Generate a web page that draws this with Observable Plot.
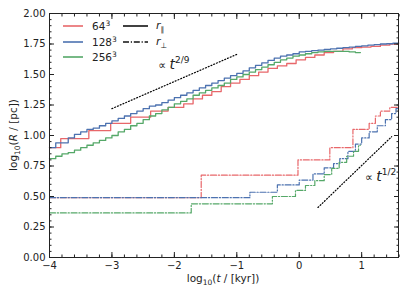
<!DOCTYPE html>
<html><head><meta charset="utf-8">
<script src="https://cdn.jsdelivr.net/npm/d3@7"></script>
<script src="https://cdn.jsdelivr.net/npm/@observablehq/plot@0.6"></script>
<style>body{margin:0;background:#fff} svg{font-family:"DejaVu Sans",sans-serif}</style>
</head><body><div id="chart"></div>
<script>
const resolutions = ["64³", "128³", "256³"];
const seriesColors = ["#e8676a", "#4c72b0", "#55a868"];

// r_parallel (solid)
const par64X = [-4.0, -3.82, -3.37, -3.02, -2.70, -2.38, -2.10, -1.85, -1.70, -1.55, -1.40, -1.25, -1.10, -0.95, -0.80, -0.65, -0.50, -0.35, -0.20, -0.05, 0.10, 0.25, 0.40, 0.55, 0.70, 0.85, 1.00, 1.15, 1.30, 1.45, 1.59];
const par64Y = [0.90, 0.975, 1.04, 1.10, 1.15, 1.20, 1.23, 1.26, 1.30, 1.33, 1.36, 1.40, 1.43, 1.46, 1.49, 1.52, 1.55, 1.57, 1.59, 1.62, 1.64, 1.66, 1.68, 1.69, 1.71, 1.72, 1.725, 1.73, 1.74, 1.75, 1.76];
const par128X = [-4.0, -3.9, -3.8, -3.7, -3.6, -3.5, -3.4, -3.3, -3.2, -3.1, -3.0, -2.9, -2.8, -2.7, -2.6, -2.5, -2.4, -2.3, -2.2, -2.1, -2.0, -1.9, -1.8, -1.7, -1.6, -1.5, -1.4, -1.3, -1.2, -1.1, -1.0, -0.9, -0.8, -0.7, -0.6, -0.5, -0.4, -0.3, -0.2, -0.1, 0.0, 0.1, 0.2, 0.3, 0.4, 0.5, 0.6, 0.7, 0.8, 0.9, 1.0, 1.1, 1.2, 1.3, 1.4, 1.5, 1.59];
const par128Y = [0.90, 0.94, 0.94, 0.98, 1.01, 1.03, 1.05, 1.06, 1.08, 1.10, 1.12, 1.14, 1.16, 1.18, 1.20, 1.22, 1.24, 1.25, 1.27, 1.29, 1.31, 1.33, 1.35, 1.37, 1.39, 1.41, 1.43, 1.45, 1.47, 1.49, 1.51, 1.53, 1.555, 1.575, 1.595, 1.615, 1.635, 1.65, 1.66, 1.67, 1.685, 1.69, 1.695, 1.70, 1.705, 1.71, 1.715, 1.72, 1.725, 1.73, 1.735, 1.74, 1.745, 1.75, 1.752, 1.756, 1.76];
const par256X = [-4.0, -3.9, -3.8, -3.7, -3.6, -3.5, -3.4, -3.3, -3.2, -3.1, -3.0, -2.9, -2.8, -2.7, -2.6, -2.5, -2.4, -2.3, -2.2, -2.1, -2.0, -1.9, -1.8, -1.7, -1.6, -1.5, -1.4, -1.3, -1.2, -1.1, -1.0, -0.9, -0.8, -0.7, -0.6, -0.5, -0.4, -0.3, -0.2, -0.1, 0.0, 0.1, 0.2, 0.3, 0.4, 0.5, 0.6, 0.7, 0.8, 0.9, 0.98];
const par256Y = [0.81, 0.83, 0.85, 0.86, 0.88, 0.90, 0.92, 0.94, 0.96, 0.98, 1.00, 1.03, 1.05, 1.08, 1.10, 1.13, 1.16, 1.18, 1.21, 1.23, 1.26, 1.28, 1.30, 1.33, 1.35, 1.37, 1.39, 1.41, 1.43, 1.46, 1.48, 1.50, 1.52, 1.54, 1.56, 1.58, 1.60, 1.62, 1.635, 1.65, 1.66, 1.67, 1.68, 1.685, 1.69, 1.69, 1.69, 1.69, 1.685, 1.68, 1.68];

// r_perp (dash-dot)
const perp64X = [-4.0, -1.57, -0.02, 0.49, 0.86, 1.12, 1.22, 1.30, 1.45, 1.59];
const perp64Y = [0.49, 0.675, 0.80, 0.90, 1.05, 1.10, 1.16, 1.20, 1.23, 1.25];
const perp128X = [-4.0, -0.79, -0.35, 0.0, 0.22, 0.40, 0.55, 0.65, 0.78, 0.90, 1.00, 1.12, 1.25, 1.38, 1.48, 1.55, 1.59];
const perp128Y = [0.49, 0.535, 0.595, 0.635, 0.685, 0.735, 0.77, 0.81, 0.87, 0.93, 0.98, 1.03, 1.08, 1.13, 1.18, 1.22, 1.23];
const perp256X = [-4.0, -1.73, -0.43, -0.06, 0.10, 0.25, 0.40, 0.52, 0.64, 0.76, 0.87, 0.95, 0.98];
const perp256Y = [0.365, 0.44, 0.50, 0.55, 0.59, 0.63, 0.68, 0.73, 0.78, 0.83, 0.87, 0.92, 0.92];

// reference power laws
const law29X = [-3.0, -1.0];
const law29Y = [1.22, 1.665];
const law12X = [0.30, 1.48];
const law12Y = [0.41, 0.99];

const xTicks = [-4, -3, -2, -1, 0, 1];
const yTicks = [0, 0.25, 0.5, 0.75, 1.0, 1.25, 1.5, 1.75, 2.0];
const xMinor = d3.range(-20, 9).map(i => i / 5);
const yMinor = d3.range(0, 41).map(i => i / 20);

function rows(xs, ys, res) { return xs.map((x, i) => ({x, y: ys[i], res})); }
const parRows = [...rows(par64X, par64Y, "64³"), ...rows(par128X, par128Y, "128³"), ...rows(par256X, par256Y, "256³")];
const perpRows = [...rows(perp64X, perp64Y, "64³"), ...rows(perp128X, perp128Y, "128³"), ...rows(perp256X, perp256Y, "256³")];
const lawRows = [...rows(law29X, law29Y, "a"), ...rows(law12X, law12Y, "b")];

const fmtX = d => d < 0 ? "\u2212" + Math.abs(d) : String(d);
const fmtY = d3.format(".2f");
const ink = "#222";

const plot = Plot.plot({
  width: 407, height: 292,
  marginLeft: 49, marginRight: 9, marginTop: 13, marginBottom: 35,
  style: {fontFamily: "DejaVu Sans", fontSize: "10px", background: "#fff", color: ink},
  x: {domain: [-4, 1.59], label: null},
  y: {domain: [0, 2], label: null},
  color: {domain: resolutions, range: seriesColors},
  marks: [
    Plot.line(parRows, {x: "x", y: "y", z: "res", stroke: "res", curve: "step-after", strokeWidth: 1.3}),
    Plot.line(perpRows, {x: "x", y: "y", z: "res", stroke: "res", curve: "step-after", strokeWidth: 1.2, strokeDasharray: "6,1.8,1.2,1.8"}),
    Plot.line(lawRows, {x: "x", y: "y", z: "res", stroke: "#000", strokeWidth: 1.2, strokeDasharray: "1,2"}),
    Plot.axisX(xTicks, {anchor: "bottom", tickSize: -5, tickPadding: 9, tickFormat: fmtX, label: null, stroke: ink, fill: ink}),
    Plot.axisX(xMinor, {anchor: "bottom", tickSize: -2.5, tickFormat: () => "", label: null, stroke: ink}),
    Plot.axisX(xTicks, {anchor: "top", tickSize: -5, tickFormat: () => "", label: null, stroke: ink}),
    Plot.axisX(xMinor, {anchor: "top", tickSize: -2.5, tickFormat: () => "", label: null, stroke: ink}),
    Plot.axisY(yTicks, {anchor: "left", tickSize: -5, tickPadding: 9, tickFormat: fmtY, label: null, stroke: ink, fill: ink}),
    Plot.axisY(yMinor, {anchor: "left", tickSize: -2.5, tickFormat: () => "", label: null, stroke: ink}),
    Plot.axisY(yTicks, {anchor: "right", tickSize: -5, tickFormat: () => "", label: null, stroke: ink}),
    Plot.axisY(yMinor, {anchor: "right", tickSize: -2.5, tickFormat: () => "", label: null, stroke: ink}),
    Plot.frame({stroke: ink, strokeWidth: 1})
  ]
});
document.getElementById("chart").appendChild(plot);

const svg = d3.select(plot);
const sx = plot.scale("x"), sy = plot.scale("y");
const g = svg.append("g").attr("font-family", "DejaVu Sans").attr("fill", ink).attr("text-anchor", "start");

// legend
const legendRes = [26, 42, 57];
resolutions.forEach((r, i) => {
  g.append("line").attr("x1", 63).attr("x2", 83).attr("y1", legendRes[i]).attr("y2", legendRes[i])
    .attr("stroke", seriesColors[i]).attr("stroke-width", 1.6);
  const t = g.append("text").attr("x", 92).attr("y", legendRes[i] + 4).attr("font-size", 10.5);
  const m = r.replace("³", "");
  t.append("tspan").text(m);
  t.append("tspan").attr("dy", -4).attr("font-size", 7.5).text("3");
});
g.append("line").attr("x1", 123).attr("x2", 148).attr("y1", 26).attr("y2", 26).attr("stroke", "#111").attr("stroke-width", 1.6);
g.append("line").attr("x1", 123).attr("x2", 148).attr("y1", 42).attr("y2", 42).attr("stroke", "#111").attr("stroke-width", 1.6).attr("stroke-dasharray", "6,1.8,1.2,1.8");
[["\u2225", 26], ["\u22a5", 42]].forEach(([s, y]) => {
  const t = g.append("text").attr("x", 156).attr("y", y + 3).attr("font-size", 11);
  t.append("tspan").attr("font-style", "italic").text("r");
  t.append("tspan").attr("dy", 3).attr("font-size", 7.5).text(s);
});

// power-law annotations
function law(x, y, exp) {
  const t = g.append("text").attr("x", sx.apply(x)).attr("y", sy.apply(y)).attr("font-size", 11);
  t.append("tspan").text("\u221d ");
  t.append("tspan").attr("font-style", "italic").attr("font-size", 14).text("t");
  t.append("tspan").attr("dy", -6).attr("font-size", 9).text(exp);
}
law(-2.25, 1.54, "2/9");
law(1.06, 0.62, "1/2");

// axis labels
const xl = g.append("text").attr("x", 223).attr("y", 282).attr("text-anchor", "middle").attr("font-size", 10.5);
xl.append("tspan").text("log");
xl.append("tspan").attr("dy", 3).attr("font-size", 7.5).text("10");
xl.append("tspan").attr("dy", -3).text("(");
xl.append("tspan").attr("font-style", "italic").text("t");
xl.append("tspan").text(" / [kyr])");
const yl = g.append("text").attr("transform", "translate(17,135) rotate(-90)").attr("text-anchor", "middle").attr("font-size", 10.5);
yl.append("tspan").text("log");
yl.append("tspan").attr("dy", 3).attr("font-size", 7.5).text("10");
yl.append("tspan").attr("dy", -3).text("(");
yl.append("tspan").attr("font-style", "italic").text("R");
yl.append("tspan").text(" / [pc])");
</script></body></html>
